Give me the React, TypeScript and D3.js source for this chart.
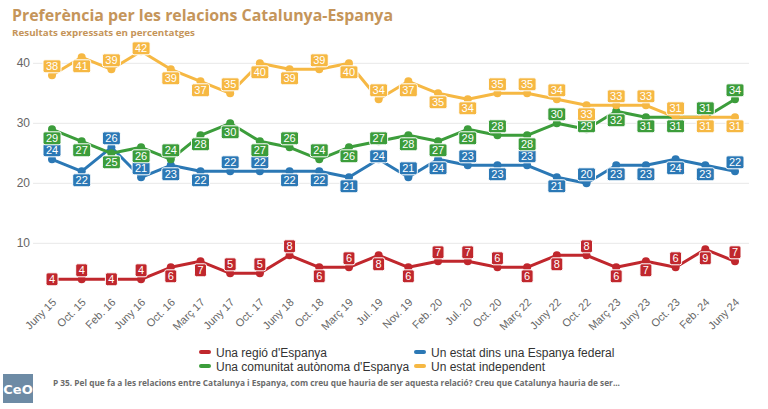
import React from "react";
import * as d3 from "d3";

const categories = ["Juny 15","Oct. 15","Feb. 16","Juny 16","Oct. 16","Març 17","Juny 17","Oct. 17","Juny 18","Oct. 18","Març 19","Jul. 19","Nov. 19","Feb. 20","Jul. 20","Oct. 20","Març 22","Juny 22","Oct. 22","Març 23","Juny 23","Oct. 23","Feb. 24","Juny 24"];

const regio = [4,4,4,4,6,7,5,5,8,6,6,8,6,7,7,6,6,8,8,6,7,6,9,7];
const federal = [24,22,26,21,23,22,22,22,22,22,21,24,21,24,23,23,23,21,20,23,23,24,23,22];
const autonomia = [29,27,25,26,24,28,30,27,26,24,26,27,28,27,29,28,28,30,29,32,31,31,31,34];
const independent = [38,41,39,42,39,37,35,40,39,39,40,34,37,35,34,35,35,34,33,33,33,31,31,31];

// data label placement: a = above, b = below, c = centred, s = slightly above
const regioLabels = "cacabbaaababbaaabbabbaba";
const federalLabels = "abaabbaabbbsababababbbba";
const autonomiaLabels = "bbbbabbbaabsbbbabasbbbaa";
const independentLabels = "abasbbabbababbbaaabaaabb";

const yTicks = [10, 20, 30, 40];

const seriesNames = ["Una regió d'Espanya", "Un estat dins una Espanya federal", "Una comunitat autònoma d'Espanya", "Un estat independent"];
const seriesColors = ["#c0272d", "#2b78b5", "#3c9d3b", "#f6b843"];

const series = [
  { name: seriesNames[0], color: seriesColors[0], values: regio, labels: regioLabels },
  { name: seriesNames[1], color: seriesColors[1], values: federal, labels: federalLabels },
  { name: seriesNames[2], color: seriesColors[2], values: autonomia, labels: autonomiaLabels },
  { name: seriesNames[3], color: seriesColors[3], values: independent, labels: independentLabels },
];

const W = 768, H = 409;
const FONT = "'Liberation Sans', Arial, sans-serif";

export default function App() {
  const x = d3.scalePoint<string>().domain(categories).range([52, 735]);
  const y = d3.scaleLinear().domain([0, 40]).range([303.3, 63.3]);
  const line = d3.line<number>().x((_, i) => x(categories[i])!).y((v) => y(v));
  const shift: Record<string, number> = { a: -9, b: 9, c: 0, s: -3 };

  return (
    <svg width={W} height={H} style={{ position: "absolute", left: 0, top: 0, background: "#fff" }}>
      <text x={12} y={21} fontFamily="'Open Sans', sans-serif" fontWeight={700} fontSize={16} fill="#c5955a" textLength={381} lengthAdjust="spacingAndGlyphs">Preferència per les relacions Catalunya-Espanya</text>
      <text x={12} y={35.5} fontFamily="'Open Sans', sans-serif" fontWeight={700} fontSize={9} fill="#c5955a" textLength={183} lengthAdjust="spacingAndGlyphs">Resultats expressats en percentatges</text>

      {yTicks.map((t) => (
        <g key={t}>
          <line x1={33} x2={749} y1={y(t)} y2={y(t)} stroke="#e8e8e8" strokeWidth={1} />
          <text x={30} y={y(t) + 4} textAnchor="end" fontFamily={FONT} fontSize={12} fill="#666">{t}</text>
        </g>
      ))}

      {categories.map((c) => (
        <text key={c} transform={`translate(${x(c)! + 5},${303}) rotate(-45)`} textAnchor="end" fontFamily={FONT} fontSize={11} fill="#666">{c}</text>
      ))}

      {series.map((s) => (
        <g key={s.name}>
          <path d={line(s.values)!} fill="none" stroke={s.color} strokeWidth={3} strokeLinejoin="round" />
          {s.values.map((v, i) => (
            <circle key={i} cx={x(categories[i])!} cy={y(v)} r={4} fill={s.color} />
          ))}
        </g>
      ))}

      {series.map((s) => (
        <g key={s.name + "-labels"}>
          {s.values.map((v, i) => {
            const txt = String(v);
            const w = txt.length > 1 ? 18 : 12;
            const h = 13;
            const cx = x(categories[i])!;
            const cy = y(v) + shift[s.labels[i]];
            return (
              <g key={i}>
                <rect x={cx - w / 2} y={cy - h / 2} width={w} height={h} rx={2} fill={s.color} stroke="#fff" strokeWidth={1} />
                <text x={cx} y={cy + 4} textAnchor="middle" fontFamily={FONT} fontSize={11} fill="#fff">{txt}</text>
              </g>
            );
          })}
        </g>
      ))}

      {series.map((s, i) => {
        const lx = i % 2 === 0 ? 199 : 414;
        const ly = i < 2 ? 352 : 366;
        return (
          <g key={s.name + "-legend"}>
            <rect x={lx} y={ly - 2} width={12} height={4} rx={2} fill={s.color} />
            <text x={lx + 17} y={ly + 4.5} fontFamily={FONT} fontSize={12} fill="#333">{s.name}</text>
          </g>
        );
      })}

      <rect x={3} y={374} width={30} height={29} fill="#6d8ba5" />
      <text x={18} y={394} textAnchor="middle" fontFamily="'DejaVu Sans', sans-serif" fontWeight={700} fontSize={13} fill="#fff">CeO</text>
      <text x={53} y={386} fontFamily="'Open Sans', sans-serif" fontWeight={700} fontSize={8} fill="#6b6b6b" textLength={567} lengthAdjust="spacingAndGlyphs">P 35. Pel que fa a les relacions entre Catalunya i Espanya, com creu que hauria de ser aquesta relació? Creu que Catalunya hauria de ser...</text>
    </svg>
  );
}
